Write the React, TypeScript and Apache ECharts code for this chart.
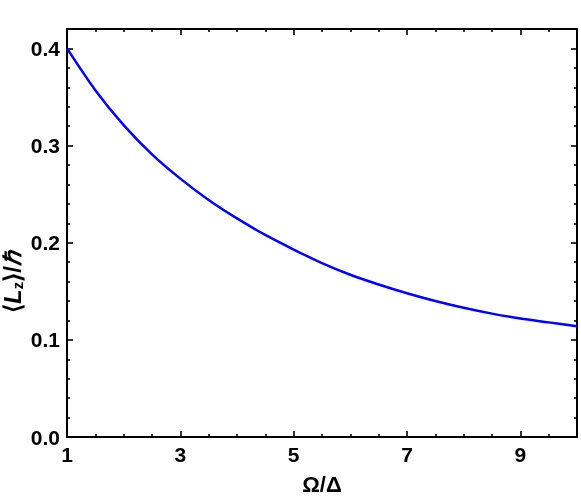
import React, { useEffect, useRef } from "react";
import * as echarts from "echarts";

// Ω/Δ sample positions and ⟨Lz⟩/ℏ values
const omega = [1, 1.5, 2, 2.5, 3, 3.5, 4, 4.5, 5, 5.5, 6, 6.5, 7, 7.5, 8, 8.5, 9, 9.5, 10];
const lz = [0.4, 0.357, 0.321, 0.291, 0.266, 0.244, 0.225, 0.208, 0.193, 0.179, 0.167, 0.157, 0.148, 0.14, 0.133, 0.127, 0.122, 0.118, 0.114];

const xTicks = [1, 3, 5, 7, 9];
const xMinorTicks = [1.5, 2, 2.5, 3.5, 4, 4.5, 5.5, 6, 6.5, 7.5, 8, 8.5, 9.5];
const yTicks = [0, 0.1, 0.2, 0.3, 0.4];
const yMinorTicks = [0.02, 0.04, 0.06, 0.08, 0.12, 0.14, 0.16, 0.18, 0.22, 0.24, 0.26, 0.28, 0.32, 0.34, 0.36, 0.38];

const X_MIN = 1;
const X_MAX = 10;
const Y_MIN = 0;
const Y_MAX = 0.42;

const FONT = "'Liberation Sans', Arial, sans-serif";

export default function App() {
  const ref = useRef<HTMLDivElement>(null);

  useEffect(() => {
    if (!ref.current) return;
    const chart = echarts.init(ref.current, null, { renderer: "svg" });

    const lineStyle = { color: "#000", width: 2 };
    const makeAxis = (
      position: string,
      min: number,
      max: number,
      ticks: number[],
      len: number,
      showLine: boolean,
      labels: number[] | null,
      fmt: (v: number) => string
    ) => ({
      type: "value",
      position,
      min,
      max,
      splitLine: { show: false },
      axisLine: { show: showLine, onZero: false, lineStyle },
      axisTick: {
        show: true,
        inside: true,
        length: len,
        customValues: ticks,
        lineStyle: { color: "#000", width: 1.6 },
      },
      axisLabel: labels
        ? {
            show: true,
            customValues: labels,
            formatter: fmt,
            color: "#000",
            fontFamily: FONT,
            fontWeight: "bold",
            fontSize: 21,
            margin: 7,
          }
        : { show: false },
    });

    const fx = (v: number) => String(Math.round(v));
    const fy = (v: number) => v.toFixed(1);

    chart.setOption({
      animation: false,
      grid: {
        left: 67,
        right: 4,
        top: 29,
        bottom: 62,
        containLabel: false,
        outerBoundsMode: "none",
      },
      xAxis: [
        {
          ...makeAxis("bottom", X_MIN, X_MAX, xTicks, 6, true, xTicks, fx),
          name: "Ω/Δ",
          nameLocation: "middle",
          nameGap: 36,
          nameTextStyle: {
            color: "#000",
            fontFamily: FONT,
            fontWeight: "bold",
            fontSize: 22,
            lineHeight: 22,
          },
        },
        makeAxis("bottom", X_MIN, X_MAX, xMinorTicks, 3, false, null, fx),
        makeAxis("top", X_MIN, X_MAX, xTicks, 6, true, null, fx),
        makeAxis("top", X_MIN, X_MAX, xMinorTicks, 3, false, null, fx),
      ],
      yAxis: [
        makeAxis("left", Y_MIN, Y_MAX, yTicks, 6, true, yTicks, fy),
        makeAxis("left", Y_MIN, Y_MAX, yMinorTicks, 3, false, null, fy),
        makeAxis("right", Y_MIN, Y_MAX, yTicks, 6, true, null, fy),
        makeAxis("right", Y_MIN, Y_MAX, yMinorTicks, 3, false, null, fy),
      ],
      graphic: [
        {
          type: "text",
          x: 12,
          y: 282,
          rotation: Math.PI / 2,
          style: {
            text: "{a|⟨}{l|L}{s|z}{a|⟩/}{l|ℏ}",
            align: "center",
            verticalAlign: "middle",
            fill: "#000",
            rich: {
              a: { fontFamily: FONT, fontWeight: "bold", fontSize: 24, fill: "#000" },
              l: {
                fontFamily: FONT,
                fontWeight: "bold",
                fontStyle: "italic",
                fontSize: 24,
                fill: "#000",
              },
              s: {
                fontFamily: FONT,
                fontWeight: "bold",
                fontSize: 15,
                fill: "#000",
                padding: [10, 0, 0, 0],
              },
            },
          },
        },
      ],
      series: [
        {
          type: "line",
          xAxisIndex: 0,
          yAxisIndex: 0,
          data: omega.map((x, i) => [x, lz[i]]),
          smooth: 0.3,
          showSymbol: false,
          symbol: "none",
          lineStyle: { color: "#0000ff", width: 2.5 },
          clip: true,
        },
      ],
    });

    return () => chart.dispose();
  }, []);

  return (
    <div
      ref={ref}
      style={{ position: "fixed", left: 0, top: 0, width: 581, height: 499 }}
    />
  );
}
